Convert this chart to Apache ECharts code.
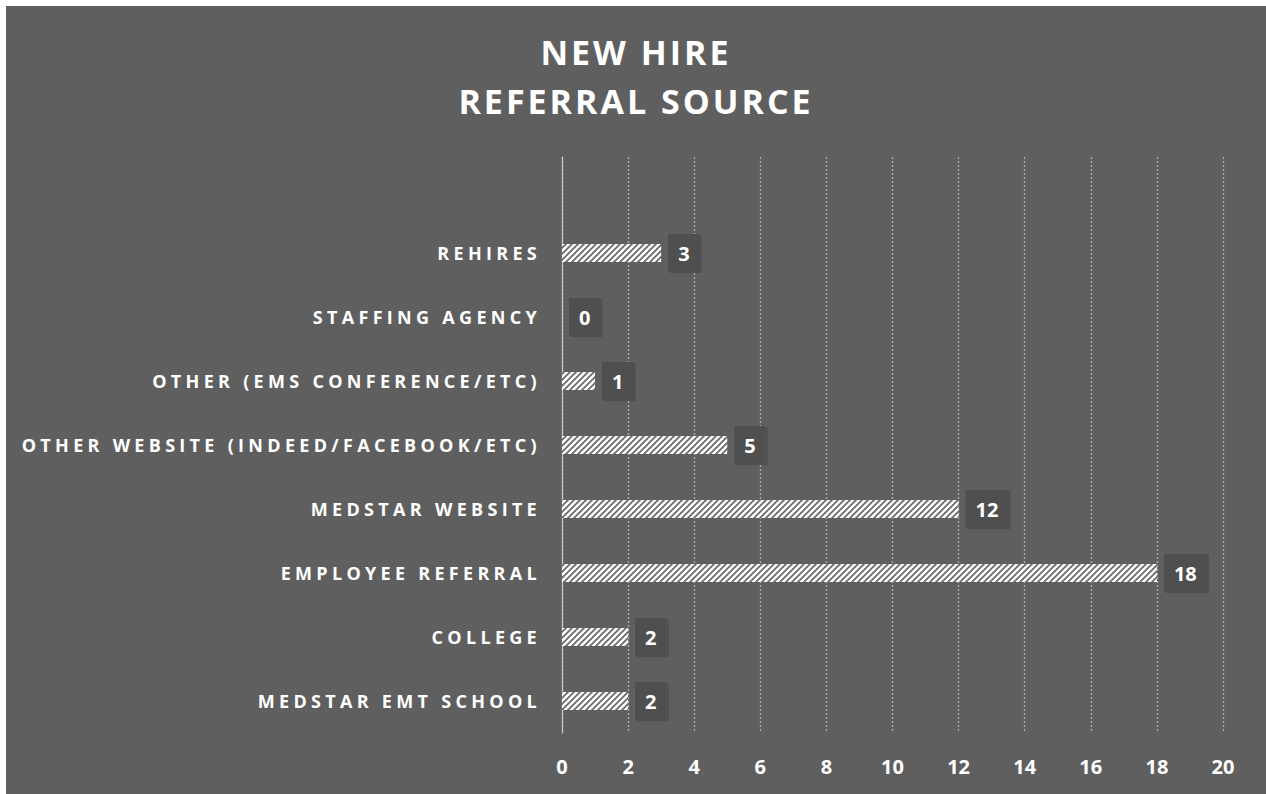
<!DOCTYPE html>
<html>
<head>
<meta charset="utf-8">
<script src="https://cdn.jsdelivr.net/npm/echarts@6/dist/echarts.min.js"></script>
<style>
  html, body { margin: 0; padding: 0; background: #ffffff; }
  #chart { position: absolute; left: 6px; top: 6px; width: 1260px; height: 788px; background: #5f5f5f; }
  /* letter spacing for the category names and the title */
  #chart text[style*="18px"] { letter-spacing: 4.3px; }
  #chart text[style*="34px"] { letter-spacing: 3px; }
</style>
</head>
<body>
<div id="chart"></div>
<script>
// Referral sources, listed bottom to top as drawn on the category axis
const categories = [
  'MEDSTAR EMT SCHOOL',
  'COLLEGE',
  'EMPLOYEE REFERRAL',
  'MEDSTAR WEBSITE',
  'OTHER WEBSITE (INDEED/FACEBOOK/ETC)',
  'OTHER (EMS CONFERENCE/ETC)',
  'STAFFING AGENCY',
  'REHIRES'
];
const hires = [2, 2, 18, 12, 5, 1, 0, 3];
const titleLines = ['NEW HIRE', 'REFERRAL SOURCE'];
const valueMin = 0, valueMax = 20, valueStep = 2;

// Diagonal hatch tile used to fill the bars
function hatchTile() {
  const size = 6;
  const cv = document.createElement('canvas');
  cv.width = size; cv.height = size;
  const c = cv.getContext('2d');
  c.fillStyle = '#ffffff';
  c.fillRect(0, 0, size, size);
  c.strokeStyle = '#666666';
  c.lineWidth = 1.7;
  c.beginPath();
  c.moveTo(-1, size + 1); c.lineTo(size + 1, -1);
  c.moveTo(-1, 1); c.lineTo(1, -1);
  c.moveTo(size - 1, size + 1); c.lineTo(size + 1, size - 1);
  c.stroke();
  return cv;
}

const chart = echarts.init(document.getElementById('chart'), null, { renderer: 'svg' });

const font = '"Open Sans", "Noto Sans", sans-serif';

chart.setOption({
  backgroundColor: '#5f5f5f',
  animation: false,
  title: {
    text: titleLines.join('\n'),
    left: 'center',
    top: 16,
    textStyle: {
      color: '#ffffff',
      fontFamily: font,
      fontWeight: 'bold',
      fontSize: 34,
      lineHeight: 49
    }
  },
  grid: { left: 556, right: 43, top: 151, bottom: 61, containLabel: false },
  xAxis: {
    type: 'value',
    min: valueMin,
    max: valueMax,
    interval: valueStep,
    axisLine: { show: false },
    axisTick: { show: false },
    axisLabel: {
      color: '#ffffff',
      fontFamily: font,
      fontWeight: 'bold',
      fontSize: 20,
      margin: 23
    },
    splitLine: {
      show: true,
      lineStyle: { color: '#adadad', width: 1.3, type: [2, 2] }
    }
  },
  yAxis: {
    type: 'category',
    // an empty slot above the last source leaves head room under the title
    data: categories.concat(['']),
    axisLine: { show: true, lineStyle: { color: '#c8c8c8', width: 1.2 } },
    axisTick: { show: false },
    axisLabel: {
      color: '#ffffff',
      fontFamily: font,
      fontWeight: 'bold',
      fontSize: 18,
      margin: 21
    },
    splitLine: { show: false }
  },
  series: [{
    type: 'bar',
    data: hires,
    barWidth: 18,
    itemStyle: {
      color: { image: hatchTile(), repeat: 'repeat' }
    },
    label: {
      show: true,
      position: 'right',
      distance: 7,
      color: '#ffffff',
      fontFamily: font,
      fontWeight: 'bold',
      fontSize: 20,
      backgroundColor: '#4f4f4f',
      padding: [9, 10, 9, 10],
      shadowColor: 'rgba(0,0,0,0.18)',
      shadowOffsetX: 2,
      shadowOffsetY: 1,
      shadowBlur: 0
    }
  }]
});
</script>
</body>
</html>
